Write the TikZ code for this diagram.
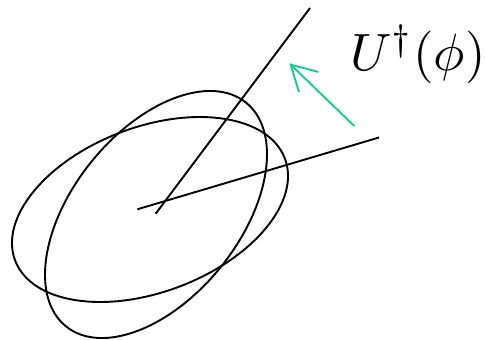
\documentclass[tikz,border=0pt]{standalone}
\usetikzlibrary{arrows.meta}
\definecolor{arrowgreen}{RGB}{20,205,145}
\begin{document}
\begin{tikzpicture}[x=1pt,y=-1pt,
  curve/.style={line width=1.9pt, black},
  axisline/.style={line width=1.9pt, black},
  greenarrow/.style={line width=1.9pt, arrowgreen, -{Straight Barb[length=25pt,width=28pt,line width=1.9pt]}},
  label/.style={inner sep=0pt, anchor=base west, scale=5.25}]
\useasboundingbox (0,0) rectangle (485,340);
% ellipses (same ellipse, two rotations)
\draw[curve, rotate around={20.7:(150,209.5)}] (150,209.5) ellipse [x radius=144.2pt, y radius=82.5pt];
\draw[curve, rotate around={51.2:(156,214.5)}] (156,214.5) ellipse [x radius=143.6pt, y radius=83.4pt];
% axes
\coordinate (o1) at (137.3,209.3);
\coordinate (e1) at (379,137.5);
\coordinate (o2) at (155.7,213.7);
\coordinate (e2) at (310,8);
\draw[axisline] (o1) -- (e1);
\draw[axisline] (o2) -- (e2);
% arrow
\coordinate (at) at (354.3,126);
\coordinate (ah) at (289.3,63.3);
\draw[greenarrow] (at) -- (ah);
% label
\node[label] (lab) at (349,70) {$U^\dagger(\phi)$};
\end{tikzpicture}
\end{document}
